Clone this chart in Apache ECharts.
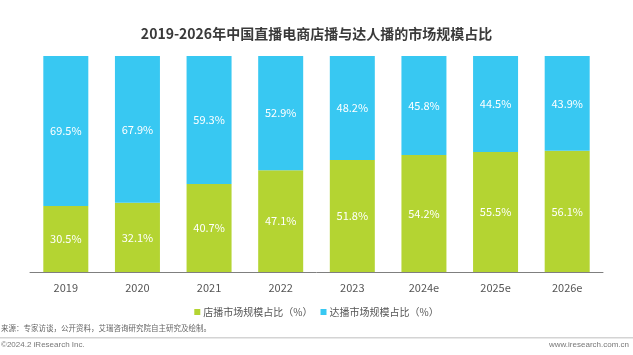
<!DOCTYPE html>
<html><head><meta charset="utf-8">
<script src="https://cdn.jsdelivr.net/npm/echarts@6/dist/echarts.min.js"></script>
<style>html,body{margin:0;padding:0;background:#fff}#c{width:633px;height:355px}</style>
</head><body><div id="c"></div>
<script>
var categories = ['2019','2020','2021','2022','2023','2024e','2025e','2026e'];
var storeShare = [30.5,32.1,40.7,47.1,51.8,54.2,55.5,56.1];
var talentShare = [69.5,67.9,59.3,52.9,48.2,45.8,44.5,43.9];
var seriesNames = ['店播市场规模占比（%）','达播市场规模占比（%）'];
var titleText = '2019-2026年中国直播电商店播与达人播的市场规模占比';
var sourceText = '来源：专家访谈，公开资料，艾瑞咨询研究院自主研究及绘制。';
var footLeft = '©2024.2 iResearch Inc.';
var footRight = 'www.iresearch.com.cn';

var font = '"Noto Sans CJK SC","Microsoft YaHei",sans-serif';
var chart = echarts.init(document.getElementById('c'), null, {renderer:'canvas'});
var lbl = {show:true, position:'inside', color:'#fff', fontSize:11, fontFamily:font, formatter:'{c}%'};
chart.setOption({
  animation:false,
  textStyle:{fontFamily:font},
  title:{text:titleText, left:'center', top:22, textStyle:{fontSize:14, fontWeight:'bold', color:'#3a3a3a', fontFamily:font}},
  grid:{left:30, right:30, top:56, bottom:83},
  legend:{top:302, left:'center', itemWidth:6, itemHeight:6, itemGap:8, icon:'rect',
    textStyle:{fontSize:10, color:'#555', fontFamily:font, padding:[0,0,0,-2]}, data:seriesNames},
  xAxis:{type:'category', data:categories,
    axisLine:{lineStyle:{color:'#7f7f7f', width:1}}, axisTick:{show:false},
    axisLabel:{color:'#555', fontSize:11, margin:10, fontFamily:font}},
  yAxis:{type:'value', min:0, max:100, show:false},
  series:[
    {name:seriesNames[0], type:'bar', stack:'t', data:storeShare, barWidth:45,
     itemStyle:{color:'#b4d432'}, label:lbl},
    {name:seriesNames[1], type:'bar', stack:'t', data:talentShare, barWidth:45,
     itemStyle:{color:'#38c8f2'}, label:lbl}
  ],
  graphic:[
    {type:'text', left:1, top:324, style:{text:sourceText, fill:'#666', font:'7.5px '+font}},
    {type:'rect', left:0, top:337, shape:{width:633, height:1.5}, style:{fill:'#d4d4d4'}},
    {type:'text', left:1, top:341, style:{text:footLeft, fill:'#777', font:'8px "Liberation Sans",Arial,sans-serif'}},
    {type:'text', right:4, top:341, style:{text:footRight, fill:'#777', font:'8px "Liberation Sans",Arial,sans-serif'}}
  ]
});
</script></body></html>
